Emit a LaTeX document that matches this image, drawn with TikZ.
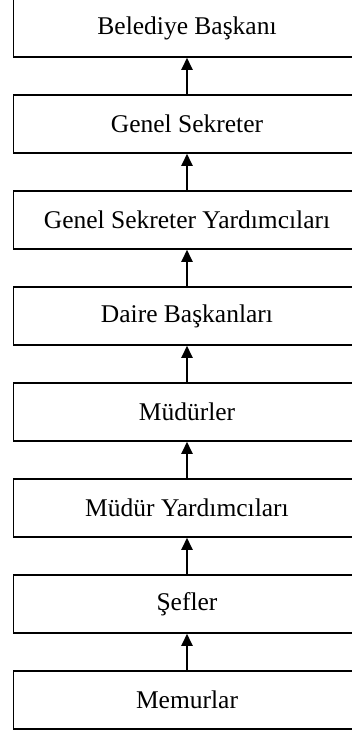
\documentclass[tikz,border=0pt]{standalone}
\usepackage{fontspec}
\setmainfont{Liberation Serif}
\usetikzlibrary{arrows.meta}

\tikzset{every picture/.style={line width=1.5pt}}
\tikzset{
  rankbox/.style={draw, line width=1.5pt, inner sep=0pt, minimum width=347.5pt, minimum height=58pt,
    font=\fontsize{25.5}{30}\selectfont},
  upline/.style={line width=2pt, -{Triangle[width=11pt,length=12pt]}}
}

\begin{document}
\begin{tikzpicture}[x=1pt,y=1pt,yscale=-1,xscale=1]
%set diagram left start at 0, right side runs off the page
\clip (0,0) rectangle (352,732);

% Text Node
\node [rankbox] (baskan) at (187,28) {Belediye Başkanı};
% Text Node
\node [rankbox] (sekreter) at (187,124) {Genel Sekreter};
% Text Node
\node [rankbox] (yardimci) at (187,220) {Genel Sekreter Yardımcıları};
% Text Node
\node [rankbox] (daire) at (187,316) {Daire Başkanları};
% Text Node
\node [rankbox] (mudur) at (187,412) {Müdürler};
% Text Node
\node [rankbox] (mudyrd) at (187,508) {Müdür Yardımcıları};
% Text Node
\node [rankbox] (sef) at (187,604) {Şefler};
% Text Node
\node [rankbox] (memur) at (187,700) {Memurlar};

%Straight Lines
\draw [upline] (sekreter.north) -- (baskan.south);
\draw [upline] (yardimci.north) -- (sekreter.south);
\draw [upline] (daire.north) -- (yardimci.south);
\draw [upline] (mudur.north) -- (daire.south);
\draw [upline] (mudyrd.north) -- (mudur.south);
\draw [upline] (sef.north) -- (mudyrd.south);
\draw [upline] (memur.north) -- (sef.south);

\end{tikzpicture}
\end{document}
